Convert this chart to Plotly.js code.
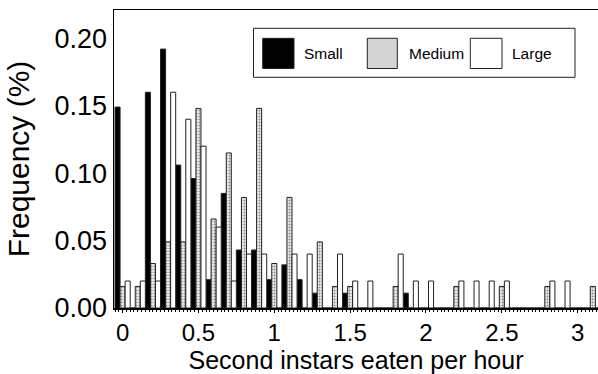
<!DOCTYPE html>
<html>
<head>
<meta charset="utf-8">
<script src="https://cdn.plot.ly/plotly-3.0.1.min.js"></script>
<style>
  html, body { margin: 0; padding: 0; background: #fff; overflow: hidden; }
  #chart { width: 598px; height: 374px; }
</style>
</head>
<body>
<div id="chart"></div>
<script>
// Feeding-rate bins (second instars eaten per hour)
const rateBins = [0.0, 0.1, 0.2, 0.3, 0.4, 0.5, 0.6, 0.7, 0.8, 0.9,
                  1.0, 1.1, 1.2, 1.3, 1.4, 1.5, 1.6, 1.7, 1.8, 1.9,
                  2.0, 2.1, 2.2, 2.3, 2.4, 2.5, 2.6, 2.7, 2.8, 2.9,
                  3.0, 3.1];

// Frequency of each rate for small, medium and large predators
const smallFreq  = [0.149, 0, 0.160, 0.192, 0.106, 0.096, 0.021, 0.085, 0.043, 0.043,
                    0.021, 0.032, 0.021, 0.011, 0, 0.011, 0, 0, 0, 0.011,
                    0, 0, 0, 0, 0, 0, 0, 0, 0, 0,
                    0, 0];
const mediumFreq = [0.016, 0.016, 0.033, 0.049, 0.049, 0.148, 0.066, 0.115, 0.082, 0.148,
                    0.033, 0.082, 0, 0.049, 0.016, 0.016, 0, 0, 0.016, 0,
                    0, 0, 0.016, 0, 0, 0.016, 0, 0, 0.016, 0,
                    0, 0.016];
const largeFreq  = [0.02, 0.02, 0.02, 0.16, 0.14, 0.12, 0.06, 0.02, 0.04, 0.04,
                    0, 0.04, 0.04, 0, 0.04, 0.02, 0.02, 0, 0.04, 0.02,
                    0.02, 0, 0.02, 0.02, 0.02, 0.02, 0, 0, 0.02, 0.02,
                    0, 0];

const seriesNames = ['Small', 'Medium', 'Large'];
const xTickVals = [0, 0.5, 1, 1.5, 2, 2.5, 3];
const xTickText = ['0', '0.5', '1', '1.5', '2', '2.5', '3'];
const yTickVals = [0, 0.05, 0.10, 0.15, 0.20];
const yTickText = ['0.00', '0.05', '0.10', '0.15', '0.20'];

const FONT = 'Liberation Sans, Arial, Helvetica, sans-serif';
const outline = { color: '#222', width: 1 };

const traces = [
  { type: 'bar', name: seriesNames[0], x: rateBins, y: smallFreq,
    marker: { color: '#000', line: outline } },
  { type: 'bar', name: seriesNames[1], x: rateBins, y: mediumFreq,
    marker: { color: '#fff', line: outline,
              pattern: { shape: '.', fgcolor: '#8a8a8a', bgcolor: '#f2f2f2', size: 3, solidity: 0.4 } } },
  { type: 'bar', name: seriesNames[2], x: rateBins, y: largeFreq,
    marker: { color: '#fff', line: outline } }
];

// Plot-area geometry, used to place the boxed key in paper units
const M = { l: 114, r: 0, t: 10, b: 66 };
const W = 598, H = 374;
const pw = W - M.l - M.r, ph = H - M.t - M.b;
const px = v => (v - M.l) / pw;
const py = v => (H - M.b - v) / ph;

const keySwatches = [
  { x0: 262.7, x1: 294,   fill: '#000' },
  { x0: 367.3, x1: 397.3, fill: '#d4d4d4' },
  { x0: 470.3, x1: 502,   fill: '#fff' }
];
const keyLabelX = [301.5, 406.5, 510];

const shapes = [{
  type: 'rect', xref: 'paper', yref: 'paper',
  x0: px(253.5), x1: px(575), y0: py(77.3), y1: py(28.3),
  line: { color: '#222', width: 1 }, fillcolor: '#fff', layer: 'above'
}];
keySwatches.forEach(s => shapes.push({
  type: 'rect', xref: 'paper', yref: 'paper',
  x0: px(s.x0), x1: px(s.x1), y0: py(68.5), y1: py(38.3),
  line: { color: '#222', width: 1 }, fillcolor: s.fill, layer: 'above'
}));

const annotations = seriesNames.map((name, i) => ({
  xref: 'paper', yref: 'paper', x: px(keyLabelX[i]), y: py(53.5),
  xanchor: 'left', yanchor: 'middle', showarrow: false,
  text: name, font: { family: FONT, size: 15.5, color: '#000' }
}));

const layout = {
  width: W, height: H,
  margin: M,
  paper_bgcolor: '#fff', plot_bgcolor: '#fff',
  barmode: 'group', bargap: 0, bargroupgap: 0,
  showlegend: false,
  font: { family: FONT, color: '#000' },
  xaxis: {
    range: [-0.0567, 3.134],
    tickvals: xTickVals, ticktext: xTickText,
    tickfont: { family: FONT, size: 24 },
    ticks: 'outside', ticklen: 3, tickcolor: '#000',
    minor: { dtick: 0.025, ticks: 'outside', ticklen: 2, tickcolor: '#000' },
    showline: true, linecolor: '#000', linewidth: 1.5, mirror: true,
    showgrid: false, zeroline: false,
    title: { text: 'Second instars eaten per hour', font: { family: FONT, size: 25 }, standoff: 3 }
  },
  yaxis: {
    range: [0, 0.221],
    tickvals: yTickVals, ticktext: yTickText,
    tickfont: { family: FONT, size: 27 },
    ticks: '', ticklen: 0,
    showline: true, linecolor: '#000', linewidth: 1.5,
    showgrid: false, zeroline: false,
    title: { text: 'Frequency (%)', font: { family: FONT, size: 30 }, standoff: 16 }
  },
  shapes: shapes,
  annotations: annotations
};

Plotly.newPlot('chart', traces, layout, { staticPlot: true, displayModeBar: false });
</script>
</body>
</html>
